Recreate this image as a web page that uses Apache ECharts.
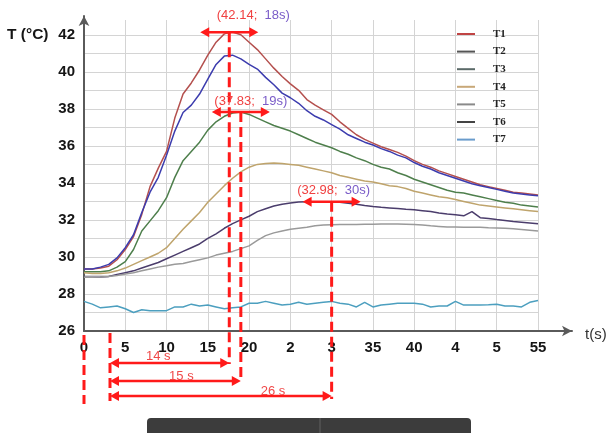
<!DOCTYPE html>
<html>
<head>
<meta charset="utf-8">
<script src="https://cdn.jsdelivr.net/npm/echarts@6/dist/echarts.min.js"></script>
<style>html,body{margin:0;padding:0;background:#fff}#c{width:608px;height:433px}</style>
</head>
<body>
<div id="c"></div>
<script>
// ---- data ----
const times = [0,1,2,3,4,5,6,7,8,9,10,11,12,13,14,15,16,17,18,19,20,21,22,23,24,25,26,27,28,29,30,31,32,33,34,35,36,37,38,39,40,41,42,43,44,45,46,47,48,49,50,51,52,53,54,55];
const T1 = [29.35,29.35,29.4,29.5,29.85,30.4,31.1,32.3,33.8,34.8,35.7,37.5,38.8,39.4,40.1,40.9,41.6,42.05,42.15,42.0,41.6,41.2,40.7,40.2,39.75,39.35,39.0,38.5,38.2,37.95,37.7,37.3,36.95,36.6,36.35,36.15,35.95,35.8,35.65,35.45,35.2,35.0,34.85,34.65,34.5,34.35,34.2,34.05,33.9,33.8,33.7,33.6,33.5,33.45,33.4,33.35];
const T2 = [29.35,29.35,29.45,29.6,29.95,30.5,31.2,32.4,33.5,34.3,35.5,36.8,37.8,38.2,38.8,39.6,40.4,40.85,40.9,40.7,40.4,40.15,39.7,39.3,38.85,38.6,38.3,37.9,37.6,37.4,37.15,36.9,36.6,36.4,36.2,36.05,35.85,35.7,35.5,35.35,35.1,34.9,34.75,34.55,34.4,34.25,34.1,33.95,33.85,33.75,33.65,33.55,33.45,33.4,33.35,33.3];
const T3 = [29.2,29.2,29.2,29.25,29.45,29.75,30.4,31.4,31.95,32.5,33.2,34.3,35.2,35.7,36.2,36.85,37.3,37.6,37.78,37.83,37.7,37.5,37.3,37.1,36.95,36.8,36.6,36.4,36.2,36.05,35.9,35.7,35.55,35.35,35.2,35.0,34.85,34.75,34.55,34.4,34.2,34.05,33.9,33.75,33.6,33.5,33.45,33.35,33.25,33.15,33.05,32.95,32.9,32.8,32.75,32.7];
const T4 = [29.15,29.1,29.1,29.15,29.25,29.4,29.6,29.8,30.0,30.2,30.5,31.0,31.5,31.95,32.4,32.95,33.4,33.85,34.25,34.6,34.85,35.0,35.05,35.07,35.05,35.0,34.95,34.85,34.75,34.65,34.55,34.4,34.3,34.2,34.1,34.05,33.95,33.85,33.8,33.7,33.55,33.45,33.35,33.25,33.2,33.1,33.0,32.9,32.8,32.75,32.7,32.65,32.6,32.55,32.5,32.45];
const T5 = [28.9,28.9,28.92,28.95,29.05,29.15,29.25,29.4,29.55,29.7,29.9,30.1,30.3,30.5,30.7,31.0,31.25,31.55,31.8,32.0,32.2,32.45,32.6,32.75,32.85,32.92,32.97,32.98,32.98,32.98,32.98,32.95,32.9,32.85,32.78,32.72,32.68,32.65,32.62,32.58,32.55,32.5,32.45,32.38,32.32,32.28,32.22,32.45,32.12,32.08,32.02,31.97,31.92,31.88,31.84,31.8];
const T6 = [28.9,28.9,28.92,28.95,29.0,29.08,29.15,29.25,29.35,29.45,29.52,29.6,29.65,29.75,29.85,29.95,30.1,30.2,30.3,30.45,30.6,30.9,31.15,31.3,31.4,31.5,31.55,31.6,31.68,31.72,31.74,31.75,31.75,31.75,31.76,31.77,31.78,31.78,31.78,31.77,31.75,31.72,31.68,31.65,31.62,31.62,31.6,31.6,31.6,31.58,31.57,31.55,31.52,31.48,31.44,31.4];
const T7 = [27.6,27.45,27.25,27.3,27.35,27.2,27.0,27.15,27.1,27.1,27.1,27.3,27.3,27.45,27.35,27.4,27.3,27.2,27.25,27.3,27.5,27.5,27.6,27.5,27.4,27.45,27.55,27.45,27.5,27.55,27.6,27.5,27.45,27.3,27.55,27.3,27.4,27.45,27.5,27.5,27.5,27.45,27.3,27.35,27.35,27.6,27.4,27.4,27.4,27.42,27.45,27.35,27.35,27.3,27.55,27.65];
const seriesNames = ['T1','T2','T3','T4','T5','T6','T7'];
const xTickLabels = ['0','5','10','15','20','2','3','35','40','4','5','55'];
// annotations (values as printed on the figure)
const peakValues = [42.14, 37.83, 32.98];
const peakTimeLabels = ['18s', '19s', '30s'];
const markerTimes = [17.6, 19.0, 30.0];   // where the dashed lines sit in the figure
const startTime = 3.15;
const durationLabels = ['14 s', '15 s', '26 s'];

// ---- styles ----
const lineColors = ['#b4504e','#3c3cae','#4e7f4c','#bfa46c','#4b3d6c','#9a9a9a','#4c9fbf'];
const legendColors = ['#c04444','#555555','#5b6a68','#c8a878','#8a8a8a','#444444','#6a9ccc'];
const RED = '#ff1a1a';

const chart = echarts.init(document.getElementById('c'), null, {renderer: 'canvas'});
const allSeries = [T1,T2,T3,T4,T5,T6,T7];

chart.setOption({
  animation: false,
  backgroundColor: '#ffffff',
  grid: [
    {left: 84, top: 20, width: 454, height: 311},
    {left: 84, top: 16, right: 36, bottom: 102}
  ],
  xAxis: [
    {gridIndex: 0, type: 'value', min: 0, max: 55, interval: 5,
     axisLine: {show: false}, axisTick: {show: false},
     splitLine: {show: true, lineStyle: {color: '#d4d4d4', width: 1}},
     axisLabel: {margin: 9, fontSize: 15, fontWeight: 'bold', color: '#151515', fontFamily: 'Liberation Sans',
       formatter: (v, i) => xTickLabels[i] !== undefined ? xTickLabels[i] : ''}},
    {gridIndex: 1, type: 'value', min: 0, max: 1,
     axisLine: {show: true, symbol: ['none','arrow'], symbolSize: [8, 10], lineStyle: {color: '#5a5a5a', width: 2}},
     axisTick: {show: false}, axisLabel: {show: false}, splitLine: {show: false}}
  ],
  yAxis: [
    {gridIndex: 0, type: 'value', min: 26, max: 42.8, interval: 1,
     axisLine: {show: false}, axisTick: {show: false},
     splitLine: {show: true, showMaxLine: false, lineStyle: {color: '#d4d4d4', width: 1}},
     axisLabel: {margin: 9, fontSize: 15, fontWeight: 'bold', color: '#151515', fontFamily: 'Liberation Sans',
       showMaxLabel: false,
       formatter: v => (Math.abs(v % 2) < 1e-6 && v <= 42) ? String(v) : ''}},
    {gridIndex: 1, type: 'value', min: 0, max: 1,
     axisLine: {show: true, symbol: ['none','arrow'], symbolSize: [8, 10], lineStyle: {color: '#5a5a5a', width: 2}},
     axisTick: {show: false}, axisLabel: {show: false}, splitLine: {show: false}}
  ],
  legend: {
    orient: 'vertical', left: 452, top: 23, itemWidth: 18, itemHeight: 2, itemGap: 5.6,
    icon: 'rect',
    textStyle: {fontFamily: 'Liberation Serif', fontWeight: 'bold', fontSize: 11, color: '#222', lineHeight: 12, padding: [0,0,0,13]},
    data: seriesNames.map((n, i) => ({name: n, itemStyle: {color: legendColors[i]}}))
  },
  series: seriesNames.map((n, i) => ({
    name: n, type: 'line', xAxisIndex: 0, yAxisIndex: 0,
    showSymbol: false, symbol: 'none',
    lineStyle: {color: lineColors[i], width: 1.5},
    itemStyle: {color: lineColors[i]},
    data: times.map((t, k) => [t, allSeries[i][k]])
  }))
});

// ---- annotations placed through the chart's own scales ----
function px(t, v) { return chart.convertToPixel({gridIndex: 0}, [t, v]); }
const axisY = px(0, 26)[1];
const g = [];
function dashV(x, y1, y2) {
  g.push({type: 'line', shape: {x1: x, y1: y1, x2: x, y2: y2}, style: {stroke: RED, lineWidth: 3, lineDash: [10, 5]}, z: 10});
}
function head(x, y, dir) { // dir: -1 left, +1 right
  const L = 9, H = 5;
  g.push({type: 'polygon', shape: {points: [[x, y], [x - dir * L, y - H], [x - dir * L, y + H]]}, style: {fill: RED}, z: 11});
}
function arrowH(x1, x2, y) {
  g.push({type: 'line', shape: {x1: x1 + 4, y1: y, x2: x2 - 4, y2: y}, style: {stroke: RED, lineWidth: 2.5}, z: 11});
  head(x1, y, -1); head(x2, y, 1);
}
function text(x, y, str, rich, fontSize) {
  g.push({type: 'text', x: x, y: y, style: {text: str, rich: rich, align: 'center', verticalAlign: 'middle', fontSize: fontSize, fontFamily: 'Liberation Sans', fill: '#f04848'}, z: 12});
}

const xStart = px(startTime, 26)[0];
const xOrigin = px(0, 26)[0];
dashV(xOrigin, axisY + 4, axisY + 73);
dashV(xStart, axisY + 2, axisY + 70);

const bottomOffsets = [32, 50, 65];
const bottomEnds = [33, 51, 68];
const topHalf = [29, 29, 29];
const labelShiftX = [24, 10, 2];
const labelShiftY = [-17, -11, -11];
const durLabelT = [9.0, 11.8, 22.9];
const durLabelDy = [-7, -5, -5];
const rich = {r: {fill: '#f04040', fontSize: 13, fontFamily: 'Liberation Sans'}, p: {fill: '#7a5cc8', fontSize: 13, fontFamily: 'Liberation Sans'}};

markerTimes.forEach((t, i) => {
  const [x, y] = px(t, peakValues[i]);
  dashV(x, y, axisY + bottomEnds[i]);
  arrowH(x - topHalf[i], x + topHalf[i], y);
  text(x + labelShiftX[i], y + labelShiftY[i], '{r|(' + peakValues[i].toFixed(2) + ';}  {p|' + peakTimeLabels[i] + ')}', rich, 13);
  const yb = axisY + bottomOffsets[i];
  arrowH(xStart, x, yb);
  text(px(durLabelT[i], 26)[0], yb + durLabelDy[i], durationLabels[i], null, 13);
});

// axis names
g.push({type: 'text', x: 7, y: 35, style: {text: 'T (°C)', fontSize: 15.5, fontWeight: 'bold', fontFamily: 'Liberation Sans', fill: '#151515', verticalAlign: 'middle'}});
g.push({type: 'text', x: 585, y: 335, style: {text: 't(s)', fontSize: 15, fontFamily: 'Liberation Sans', fill: '#333', verticalAlign: 'middle'}});
// dark bar at the bottom edge of the figure
g.push({type: 'rect', shape: {x: 147, y: 418, width: 324, height: 20, r: [4, 4, 0, 0]}, style: {fill: '#3c3c3c'}});
g.push({type: 'line', shape: {x1: 320, y1: 418, x2: 320, y2: 433}, style: {stroke: '#606060', lineWidth: 1}});

chart.setOption({graphic: {elements: g}});
</script>
</body>
</html>
